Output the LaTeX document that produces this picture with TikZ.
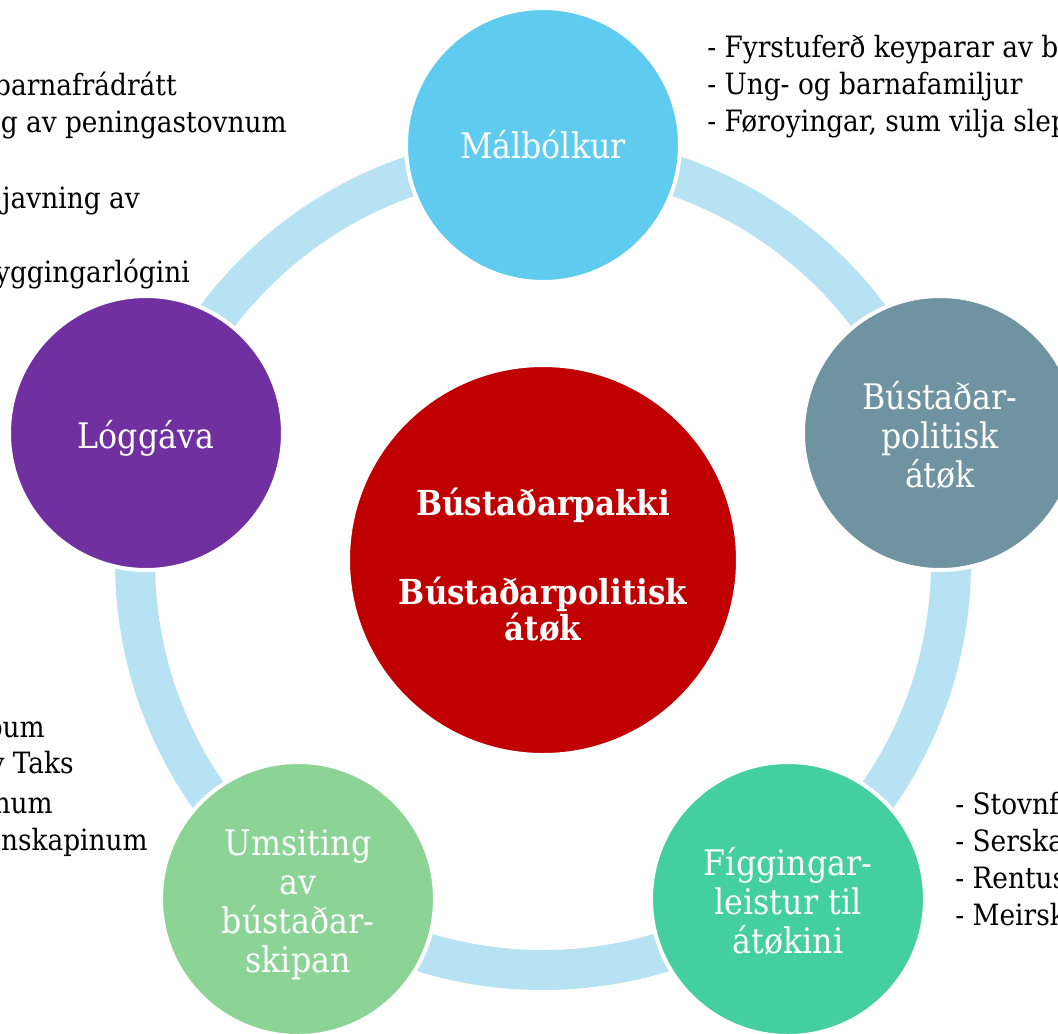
\documentclass[tikz,border=0pt]{standalone}
\usepackage{fontspec}
\setmainfont{DejaVu Serif}[FakeStretch=0.9]
\definecolor{bandblue}{HTML}{B7E2F4}
\definecolor{cmal}{HTML}{5FCBEF}
\definecolor{cbus}{HTML}{6F93A1}
\definecolor{cfig}{HTML}{43CFA0}
\definecolor{cums}{HTML}{8CD495}
\definecolor{clog}{HTML}{7030A0}
\definecolor{cred}{HTML}{C00000}
\begin{document}
\begin{tikzpicture}[x=0.75pt,y=-0.75pt,
  bubble/.style={circle, draw=white, line width=3pt, minimum size=205.5pt, inner sep=0pt},
  hub/.style={circle, draw=white, line width=3pt, minimum size=292.5pt, inner sep=0pt, fill=cred},
  lbl/.style={inner sep=0pt, text=white, align=center, font=\fontsize{26.4}{29.25}\selectfont},
  hublbl/.style={inner sep=0pt, text=white, align=center, font=\bfseries\fontsize{25.8}{27}\selectfont},
  band/.style={draw=bandblue, line width=30pt},
  note/.style={inner sep=0pt, font=\fontsize{22}{28}\selectfont, text=black}]
\useasboundingbox (0,0) rectangle (1058,1033);
\clip (0,0) rectangle (1058,1033);
\coordinate (ringc) at (543,562);
\draw[band] (ringc) circle[radius=408];
\node[bubble, fill=cmal] (mal) at (543,145) {};
\node[bubble, fill=cbus] (bus) at (940,433) {};
\node[bubble, fill=cfig] (fig) at (788,899) {};
\node[bubble, fill=cums] (ums) at (298,899) {};
\node[bubble, fill=clog] (log) at (146,433) {};
\node[hub] (hub) at (543,560) {};
\node[lbl] (malt) at (543,145) {Málbólkur};
\node[lbl] (bust) at (940,435) {Bústaðar-\\politisk\\átøk};
\node[lbl] (figt) at (788,901) {Fíggingar-\\leistur til\\átøkini};
\node[lbl] (umst) at (298,905) {Umsiting\\av\\bústaðar-\\skipan};
\node[lbl] (logt) at (146,438) {Lóggáva};
\node[hublbl] (hubt) at (543,565) {Bústaðarpakki\\[39.75pt]Bústaðarpolitisk\\átøk};
% top right notes
\node[note, anchor=base west] (tr1) at (707,57) {- Fyrstuferð keyparar av b};
\node[note, anchor=base west] (tr2) at (707,94) {- Ung- og barnafamiljur};
\node[note, anchor=base west] (tr3) at (707,131) {- Føroyingar, sum vilja slep};
% top left notes
\node[note, anchor=base east] (tl1) at (177,95) {barnafrádrátt};
\node[note, anchor=base east] (tl2) at (287,132) {g av peningastovnum};
\node[note, anchor=base east] (tl3) at (140,208) {javning av};
\node[note, anchor=base east] (tl4) at (190,282) {yggingarlógini};
% bottom left notes
\node[note, anchor=base east] (bl1) at (45,737) {bum};
\node[note, anchor=base east] (bl2) at (74,773) {v Taks};
\node[note, anchor=base east] (bl3) at (53,813) {num};
\node[note, anchor=base east] (bl4) at (148,850) {nskapinum};
% bottom right notes
\node[note, anchor=base west] (br1) at (955,814) {- Stovnf};
\node[note, anchor=base west] (br2) at (955,851) {- Serska};
\node[note, anchor=base west] (br3) at (955,888) {- Rentus};
\node[note, anchor=base west] (br4) at (955,925) {- Meirsk};
\end{tikzpicture}
\end{document}
